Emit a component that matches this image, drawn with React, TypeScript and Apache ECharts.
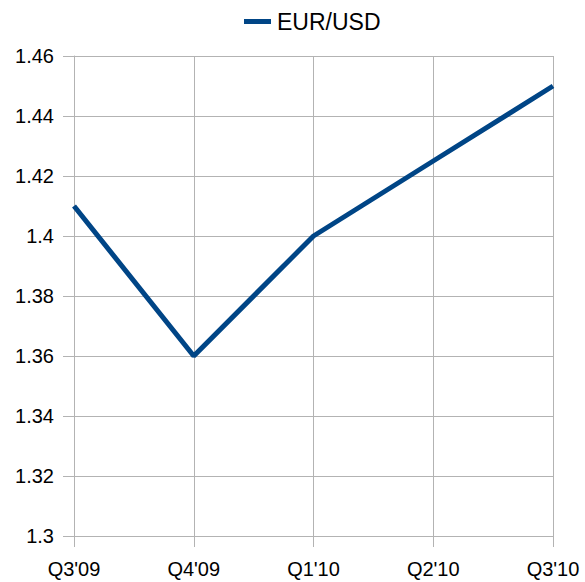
import React, { useEffect, useRef } from "react";
import * as echarts from "echarts";

const categories = ["Q3'09", "Q4'09", "Q1'10", "Q2'10", "Q3'10"];
const seriesName = "EUR/USD";
const values = [1.41, 1.36, 1.4, 1.425, 1.45];

export default function App() {
  const ref = useRef<HTMLDivElement>(null);
  useEffect(() => {
    document.body.style.margin = "0";
    const chart = echarts.init(ref.current!, null, { renderer: "svg" });
    const gridColor = "#b3b3b3";
    chart.setOption({
      animation: false,
      backgroundColor: "#ffffff",
      textStyle: { fontFamily: "Liberation Sans" },
      legend: {
        top: 5,
        left: 239,
        icon: "rect",
        itemWidth: 27,
        itemHeight: 5,
        textStyle: { fontSize: 23, color: "#000", fontFamily: "Liberation Sans", padding: [0, 0, 0, 1] },
        data: [seriesName],
      },
      grid: { left: 74, right: 32, top: 56, bottom: 46, containLabel: false },
      xAxis: {
        type: "category",
        data: categories,
        boundaryGap: false,
        axisLine: { show: true, lineStyle: { color: gridColor, width: 1 } },
        axisTick: { show: true, length: 11, lineStyle: { color: gridColor } },
        splitLine: { show: true, lineStyle: { color: gridColor, width: 1 } },
        axisLabel: { fontSize: 20, color: "#000", margin: 23, fontFamily: "Liberation Sans" },
      },
      yAxis: {
        type: "value",
        min: 1.3,
        max: 1.46,
        interval: 0.02,
        axisLine: { show: true, lineStyle: { color: gridColor, width: 1 } },
        axisTick: { show: true, length: 11, lineStyle: { color: gridColor } },
        splitLine: { show: true, lineStyle: { color: gridColor, width: 1 } },
        axisLabel: {
          fontSize: 20,
          color: "#000",
          margin: 20,
          fontFamily: "Liberation Sans",
          formatter: (v: number) => String(parseFloat(v.toFixed(2))),
        },
      },
      series: [
        {
          name: seriesName,
          type: "line",
          data: values,
          symbol: "none",
          lineStyle: { color: "#004586", width: 5 },
          itemStyle: { color: "#004586" },
        },
      ],
    });
    return () => chart.dispose();
  }, []);
  return <div ref={ref} style={{ width: 585, height: 582 }} />;
}
